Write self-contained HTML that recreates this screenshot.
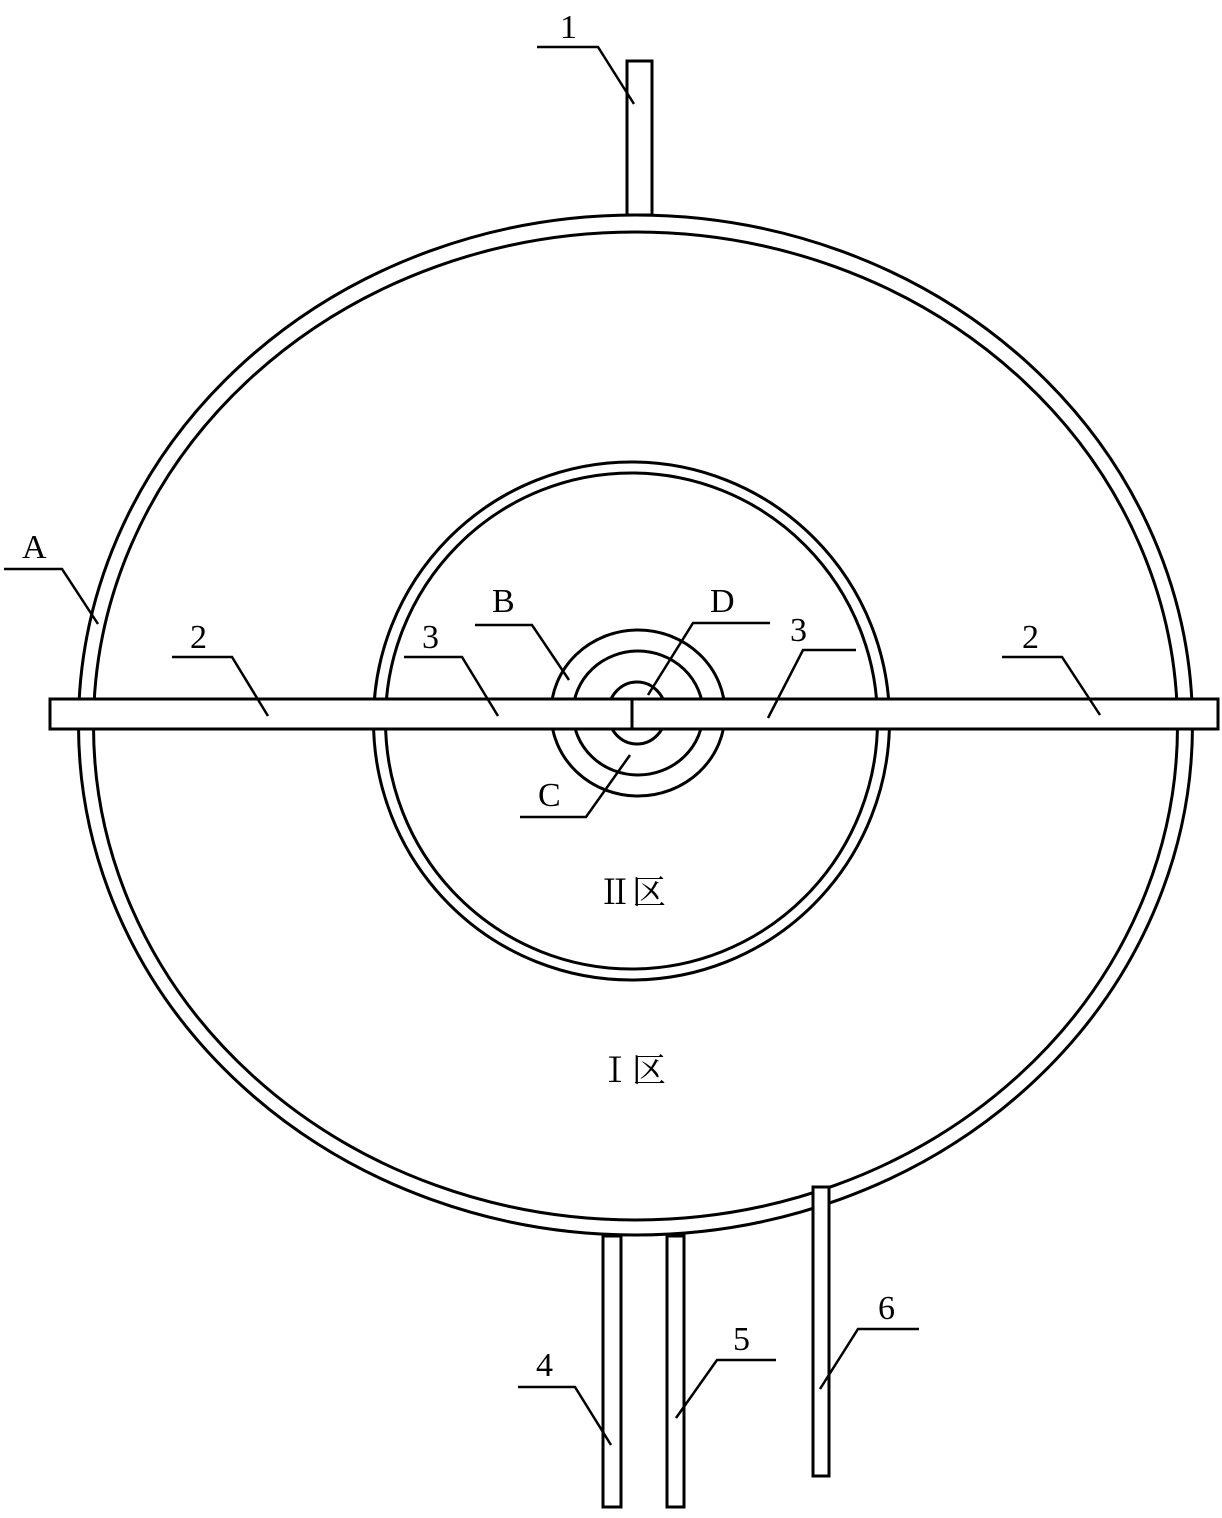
<!DOCTYPE html>
<html><head><meta charset="utf-8"><style>
html,body{margin:0;padding:0;background:#fff}
svg{display:block}
text{font-family:"Liberation Serif","Noto Serif CJK SC",serif;font-size:34px;fill:#000}
</style></head><body>
<svg width="1222" height="1518" viewBox="0 0 1222 1518" xmlns="http://www.w3.org/2000/svg">
<g fill="none" stroke="#000" stroke-width="3">
<ellipse cx="635.5" cy="725" rx="557" ry="510"/>
<ellipse cx="635.5" cy="726" rx="542" ry="494"/>
<ellipse cx="631.5" cy="721" rx="258" ry="259"/>
<ellipse cx="631.5" cy="721" rx="246" ry="248"/>
<ellipse cx="638" cy="713" rx="87" ry="83"/>
<ellipse cx="638" cy="713" rx="65" ry="62"/>
<ellipse cx="637" cy="713" rx="29" ry="31"/>
</g>
<rect x="50" y="699" width="1168" height="30" fill="#fff" stroke="#000" stroke-width="3"/>
<line x1="632" y1="699" x2="632" y2="729" stroke="#000" stroke-width="3"/>
<rect x="627" y="61" width="25" height="154" fill="#fff" stroke="#000" stroke-width="3"/>
<rect x="603" y="1236" width="18" height="271" fill="#fff" stroke="#000" stroke-width="3"/>
<rect x="667" y="1236" width="17" height="271" fill="#fff" stroke="#000" stroke-width="3"/>
<rect x="813" y="1187" width="16" height="289" fill="#fff" stroke="#000" stroke-width="3"/>
<g fill="none" stroke="#000" stroke-width="2.5">
<polyline points="537,47 598,47 634,104"/>
<polyline points="4,569 62,569 98,624"/>
<polyline points="172,657 232,657 268,716"/>
<polyline points="404,657 462,657 498,716"/>
<polyline points="475,625 532,625 569,680"/>
<polyline points="770,623 693,623 648,695"/>
<polyline points="520,817 586,817 630,755"/>
<polyline points="856,650 803,650 768,718"/>
<polyline points="1002,657 1062,657 1100,715"/>
<polyline points="518,1387 575,1387 611,1445"/>
<polyline points="776,1360 717,1360 676,1418"/>
<polyline points="919,1329 858,1329 820,1389"/>
</g>
<text x="560" y="38">1</text>
<text x="22" y="558">A</text>
<text x="190" y="648">2</text>
<text x="422" y="648">3</text>
<text x="492" y="612">B</text>
<text x="710" y="612">D</text>
<text x="538" y="806">C</text>
<text x="790" y="641">3</text>
<text x="1022" y="648">2</text>
<text x="536" y="1376">4</text>
<text x="733" y="1350">5</text>
<text x="878" y="1319">6</text>
<text x="598" y="904">Ⅱ区</text>
<text x="598" y="1082">Ⅰ区</text>
</svg>
</body></html>
